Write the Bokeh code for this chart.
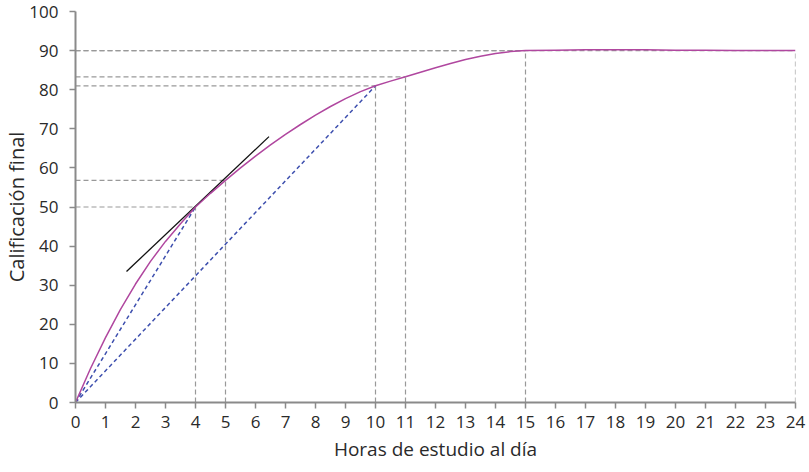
from bokeh.plotting import figure
from bokeh.models import ColumnDataSource, Range1d, FixedTicker
from bokeh.embed import file_html
from bokeh.resources import INLINE

# curve (hours of study -> final grade)
hours = [0, 0.5, 1, 1.5, 2, 2.5, 3, 3.5, 4, 4.5, 5, 5.5, 6, 6.5, 7, 7.5, 8, 8.5,
         9, 9.5, 10, 10.5, 11, 11.5, 12, 12.5, 13, 13.5, 14, 14.5, 15,
         16, 17, 18, 19, 20, 21, 22, 23, 24]
grade = [0, 8.7, 16.6, 23.8, 30.3, 36.1, 41.2, 45.7, 50, 53.5, 56.8, 60, 63,
         65.9, 68.6, 71.1, 73.5, 75.7, 77.7, 79.5, 81, 82.2, 83.3, 84.45, 85.6,
         86.7, 87.7, 88.55, 89.25, 89.75, 90,
         90.1, 90.2, 90.2, 90.2, 90.1, 90.1, 90, 90, 90]

# points marked with grey dashed guides
guide_x = [4, 5, 10, 11, 15, 24]
guide_y = [50, 56.8, 81, 83.3, 90, 90]

# blue dashed chords from the origin
chord_x = [4, 10]
chord_y = [50, 81]

# tangent at 4 hours
tangent_x = [1.7, 6.45]
tangent_y = [33.5, 68]

x_ticks = list(range(0, 25))
y_ticks = list(range(0, 101, 10))

font = "Open Sans"
axis_grey = "#8a8a8a"
text_col = "#2a2a2a"

p = figure(width=809, height=466, output_backend="svg", toolbar_location=None,
           x_range=Range1d(0, 24), y_range=Range1d(0, 100),
           x_axis_label="Horas de estudio al día", y_axis_label="Calificación final",
           min_border_left=75, min_border_right=14, min_border_top=11, min_border_bottom=64)
p.outline_line_color = None
p.grid.grid_line_color = None

guides = ColumnDataSource(data=dict(
    x=guide_x, y=guide_y,
    zero_x=[0] * len(guide_x), zero_y=[0] * len(guide_y)))
p.segment(x0="zero_x", y0="y", x1="x", y1="y", source=guides,
          line_color="#999999", line_width=1.2, line_dash="5 3")
p.segment(x0="x", y0="zero_y", x1="x", y1="y", source=guides,
          line_color="#999999", line_width=1.2, line_dash="5 3")

chords = ColumnDataSource(data=dict(
    x=chord_x, y=chord_y, zero=[0] * len(chord_x)))
p.segment(x0="zero", y0="zero", x1="x", y1="y", source=chords,
          line_color="#3d4fae", line_width=1.5, line_dash="4 3")

p.line(tangent_x, tangent_y, line_color="#111111", line_width=1.3)
p.line(hours, grade, line_color="#b0479f", line_width=1.5)

for ax in (p.xaxis, p.yaxis):
    ax.axis_line_color = axis_grey
    ax.axis_line_width = 2
    ax.major_tick_line_color = axis_grey
    ax.major_tick_line_width = 1.5
    ax.major_tick_in = 0
    ax.major_tick_out = 6
    ax.minor_tick_line_color = None
    ax.major_label_text_font = font
    ax.major_label_text_font_size = "17px"
    ax.major_label_text_color = text_col
    ax.axis_label_text_font = font
    ax.axis_label_text_font_style = "normal"
    ax.axis_label_text_color = text_col

p.xaxis.ticker = FixedTicker(ticks=x_ticks)
p.yaxis.ticker = FixedTicker(ticks=y_ticks)
p.xaxis.major_label_standoff = 7
p.yaxis.major_label_standoff = 11
p.xaxis.axis_label_text_font_size = "19px"
p.yaxis.axis_label_text_font_size = "20px"
p.xaxis.axis_label_standoff = 5
p.yaxis.axis_label_standoff = -4

open("out.html", "w").write(file_html(p, INLINE))
